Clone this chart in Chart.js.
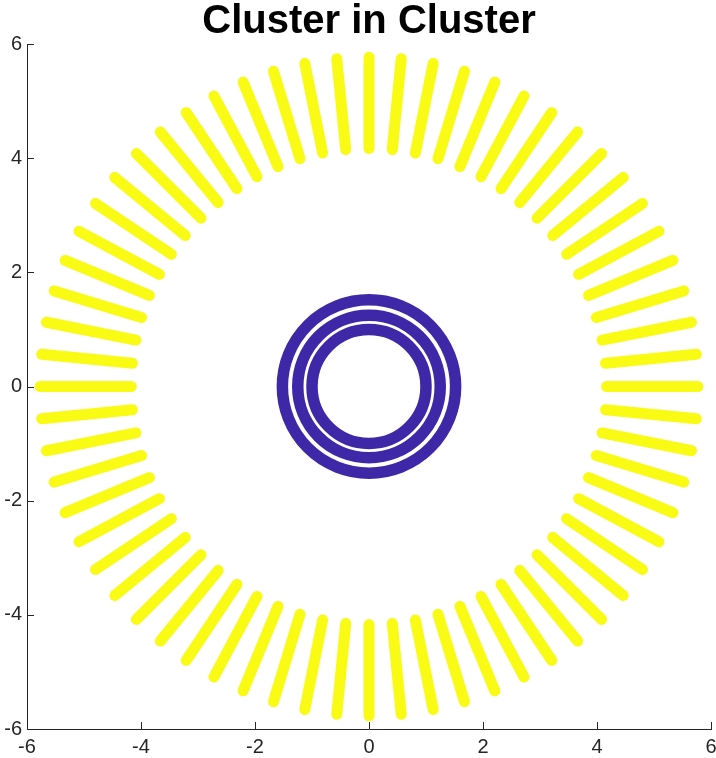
<!DOCTYPE html>
<html>
<head>
<meta charset="utf-8">
<script src="https://cdn.jsdelivr.net/npm/chart.js@4/dist/chart.umd.min.js"></script>
<style>
  html,body{margin:0;padding:0;background:#fff;}
  canvas{display:block;}
</style>
</head>
<body>
<canvas id="c" width="716" height="758"></canvas>
<script>
/* ---------- DATA ---------- */
const titleText = 'Cluster in Cluster';
const tickValues = [-6,-4,-2,0,2,4,6];

// outer cluster: 64 radial spokes (degrees) and their radial extent
const spokeAngles = [
  0,5.625,11.25,16.875,22.5,28.125,33.75,39.375,
  45,50.625,56.25,61.875,67.5,73.125,78.75,84.375,
  90,95.625,101.25,106.875,112.5,118.125,123.75,129.375,
  135,140.625,146.25,151.875,157.5,163.125,168.75,174.375,
  180,185.625,191.25,196.875,202.5,208.125,213.75,219.375,
  225,230.625,236.25,241.875,247.5,253.125,258.75,264.375,
  270,275.625,281.25,286.875,292.5,298.125,303.75,309.375,
  315,320.625,326.25,331.875,337.5,343.125,348.75,354.375
];
const spokeInner = 4.17;
const spokeOuter = 5.77;

// inner cluster: three concentric rings
const ringRadii = [1.0, 1.25, 1.52];

/* ---------- STYLE ---------- */
const YELLOW = 'rgb(249,251,21)';
const BLUE = 'rgb(62,40,168)';
const AXIS = '#262626';
const FONT = '"Liberation Sans", Arial, Helvetica, sans-serif';

/* ---------- DATASETS ---------- */
const rad = d => d*Math.PI/180;
const spokeSets = spokeAngles.map(a=>({
  data:[
    {x:spokeInner*Math.cos(rad(a)), y:spokeInner*Math.sin(rad(a))},
    {x:spokeOuter*Math.cos(rad(a)), y:spokeOuter*Math.sin(rad(a))}
  ],
  showLine:true, borderColor:YELLOW, borderWidth:11, borderCapStyle:'round',
  pointRadius:0, pointHoverRadius:0
}));

const ringPx = r => ctx => {
  const s=ctx.chart.scales.x;
  return s ? Math.abs(s.getPixelForValue(r)-s.getPixelForValue(0)) : 0;
};
const ringSets = ringRadii.map(r=>({
  data:[{x:0,y:0}],
  showLine:false,
  pointRadius:ringPx(r), pointHoverRadius:ringPx(r),
  pointBorderWidth:11.5, pointHoverBorderWidth:11.5,
  pointBorderColor:BLUE, pointBackgroundColor:'rgba(0,0,0,0)'
}));

/* ---------- INWARD TICKS ---------- */
const inwardTicks = {
  id:'inwardTicks',
  afterDatasetsDraw(chart){
    const {ctx, chartArea:a, scales:{x, y}} = chart;
    ctx.save();
    ctx.strokeStyle=AXIS; ctx.lineWidth=1;
    ctx.beginPath();
    tickValues.forEach(v=>{
      const px=Math.round(x.getPixelForValue(v))+0.5;
      ctx.moveTo(px,a.bottom); ctx.lineTo(px,a.bottom-7);
      const py=Math.round(y.getPixelForValue(v))+0.5;
      ctx.moveTo(a.left,py); ctx.lineTo(a.left+7,py);
    });
    ctx.stroke();
    ctx.restore();
  }
};

const axisCfg = isX => ({
  type:'linear', min:-6, max:6,
  grid:{display:false, drawTicks:false},
  border:{display:true, color:AXIS, width:1},
  ticks:{
    stepSize:2, autoSkip:false, maxRotation:0,
    color:AXIS, padding:isX?6:5,
    font:{family:FONT, size:20}
  },
  afterFit:s=>{
    if(isX) s.height=29; else s.width=27;
    s.paddingLeft=0; s.paddingRight=0; s.paddingTop=0; s.paddingBottom=0;
  }
});

new Chart(document.getElementById('c').getContext('2d'),{
  type:'scatter',
  data:{datasets:[...ringSets, ...spokeSets]},
  options:{
    responsive:false, animation:false, devicePixelRatio:1,
    layout:{padding:{left:0,right:5,top:0,bottom:0}},
    plugins:{
      legend:{display:false},
      tooltip:{enabled:false},
      title:{
        display:true, text:titleText, fullSize:false, color:'#000',
        font:{family:FONT, size:40, weight:'bold', lineHeight:1},
        padding:{top:2,bottom:2}
      }
    },
    scales:{x:axisCfg(true), y:axisCfg(false)}
  },
  plugins:[inwardTicks]
});
</script>
</body>
</html>
